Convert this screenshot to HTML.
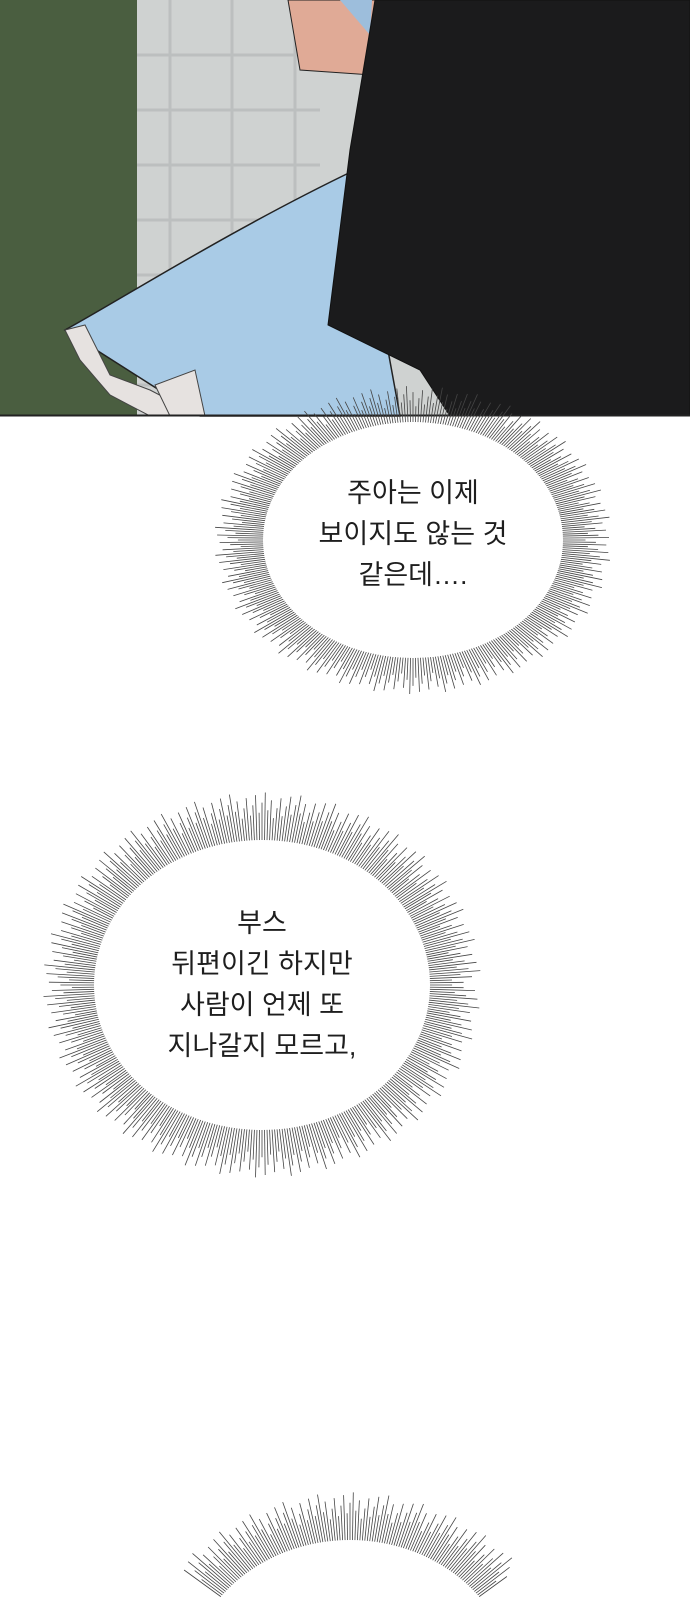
<!DOCTYPE html>
<html style="overflow:hidden"><head><meta charset="utf-8"><style>
html,body{margin:0;width:690px;height:1600px;overflow:hidden}
body{background:#fff;position:relative;font-family:"Liberation Sans","Noto Sans CJK KR",sans-serif}
svg{position:absolute;left:0;top:0;display:block}
.t{position:absolute;text-align:center;font-size:27px;line-height:41px;color:#1e1e1e;transform:translateX(-50%);white-space:nowrap}
</style></head><body>
<svg id="s" width="690" height="1600" viewBox="0 0 690 1600" style="overflow:hidden">
<rect x="0" y="0" width="690" height="416" fill="#cfd2d1"/>
<rect x="0" y="0" width="137" height="416" fill="#4a5e40"/>
<g stroke="#b5b8b8" stroke-width="3" opacity="0.7">
<line x1="170" y1="0" x2="170" y2="416"/><line x1="232" y1="0" x2="232" y2="416"/><line x1="295" y1="0" x2="295" y2="416"/>
<line x1="137" y1="55" x2="320" y2="55"/><line x1="137" y1="110" x2="320" y2="110"/><line x1="137" y1="165" x2="320" y2="165"/><line x1="137" y1="220" x2="320" y2="220"/><line x1="137" y1="275" x2="320" y2="275"/><line x1="137" y1="330" x2="320" y2="330"/><line x1="137" y1="385" x2="320" y2="385"/>
</g>
<path d="M288 0 L380 0 L372 75 L300 70 Z" fill="#e0aa96" stroke="#222" stroke-width="1"/>
<path d="M288 0 L340 0 L370 35 L372 0 Z" fill="#9dbedc"/>
<path d="M65 330 C120 300 230 230 355 170 L400 416 L200 416 Z" fill="#a9cbe6" stroke="#222" stroke-width="1.5"/>
<path d="M65 330 L85 325 L110 375 L150 390 L200 416 L150 416 L110 395 L80 360 Z" fill="#e6e2e0" stroke="#444" stroke-width="1"/>
<path d="M155 385 L195 370 L205 416 L170 416 Z" fill="#e6e2e0" stroke="#444" stroke-width="1"/>
<path d="M375 0 L690 0 L690 416 L450 416 L420 370 L328 325 L350 150 Z" fill="#1b1b1c" stroke="#111"/>
<line x1="0" y1="415.5" x2="690" y2="415.5" stroke="#222" stroke-width="2"/>
<g id="b"></g>
</svg>
<div class="t" style="left:413px;top:473px">주아는 이제<br>보이지도 않는 것<br>같은데….</div>
<div class="t" style="left:262px;top:903px">부스<br>뒤편이긴 하지만<br>사람이 언제 또<br>지나갈지 모르고,</div>
<script>
var g=document.getElementById('b'),h='';
function burst(cx,cy,rx1,ry1,rx2,ry2,n){
 for(var i=0;i<n;i++){var a=i/n*Math.PI*2,j=0.88+((i*37)%11)/75;
  var x1=cx+Math.cos(a)*(rx1-4),y1=cy+Math.sin(a)*(ry1-4),x2=cx+Math.cos(a)*rx2*j,y2=cy+Math.sin(a)*ry2*j;
  if(y2>1600)y2=1600;if(y1>1600)continue;
  h+='<line x1="'+x1.toFixed(1)+'" y1="'+y1.toFixed(1)+'" x2="'+x2.toFixed(1)+'" y2="'+y2.toFixed(1)+'" stroke="#444" stroke-width="0.8"/>';}
 h+='<ellipse cx="'+cx+'" cy="'+cy+'" rx="'+rx1+'" ry="'+ry1+'" fill="#fff"/>';
}
burst(413,540,150,118,196,152,380);
burst(262,985,168,145,216,190,420);
burst(350,1690,165,150,215,195,420);
g.innerHTML=h;
</script>
</body></html>
